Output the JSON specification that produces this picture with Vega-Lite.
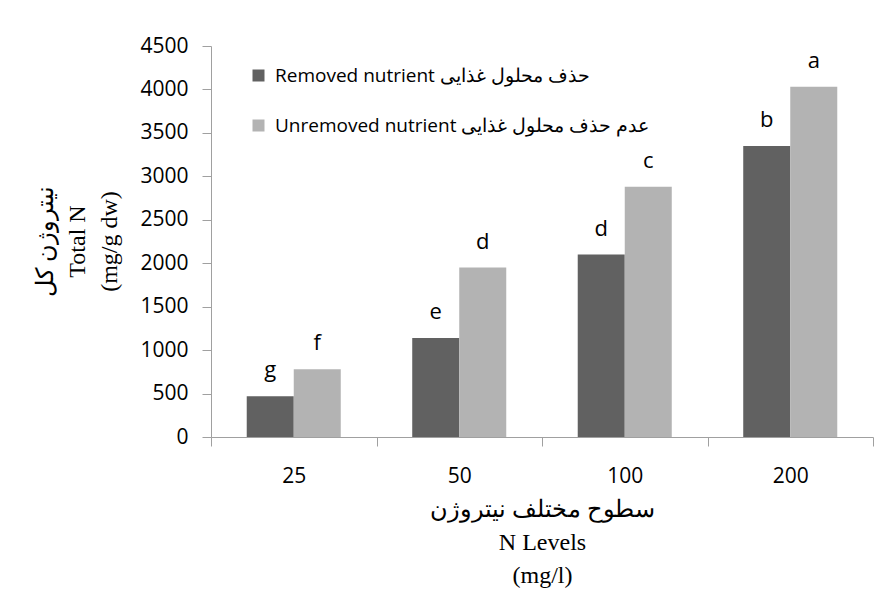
{
  "$schema": "https://vega.github.io/schema/vega-lite/v6.json",
  "width": 662,
  "height": 391,
  "autosize": {"type": "none"},
  "padding": {"left": 211, "top": 46, "right": 4, "bottom": 155},
  "background": "white",
  "data": {
    "values": [
      {"level": "25", "treatment": "Removed nutrient حذف محلول غذایی", "totalN": 470, "letter": "g"},
      {"level": "25", "treatment": "Unremoved nutrient عدم حذف محلول غذایی", "totalN": 780, "letter": "f"},
      {"level": "50", "treatment": "Removed nutrient حذف محلول غذایی", "totalN": 1140, "letter": "e"},
      {"level": "50", "treatment": "Unremoved nutrient عدم حذف محلول غذایی", "totalN": 1950, "letter": "d"},
      {"level": "100", "treatment": "Removed nutrient حذف محلول غذایی", "totalN": 2100, "letter": "d"},
      {"level": "100", "treatment": "Unremoved nutrient عدم حذف محلول غذایی", "totalN": 2880, "letter": "c"},
      {"level": "200", "treatment": "Removed nutrient حذف محلول غذایی", "totalN": 3350, "letter": "b"},
      {"level": "200", "treatment": "Unremoved nutrient عدم حذف محلول غذایی", "totalN": 4030, "letter": "a"}
    ]
  },
  "encoding": {
    "x": {
      "field": "level",
      "type": "nominal",
      "sort": ["25", "50", "100", "200"],
      "scale": {"paddingInner": 0, "paddingOuter": 0},
      "axis": {
        "title": ["سطوح مختلف نیتروژن", "N Levels", "(mg/l)"],
        "titleFont": "Liberation Serif",
        "titleFontSize": 24,
        "titleFontWeight": "normal",
        "titleLineHeight": 33,
        "titleColor": "black",
        "titleBaseline": "top",
        "titleY": 60,
        "labelAngle": 0,
        "labelFont": "Open Sans",
        "labelFontSize": 21,
        "labelColor": "black",
        "labelPadding": 19,
        "tickBand": "extent",
        "tickSize": 9,
        "tickColor": "#a0a0a0",
        "domainColor": "#a0a0a0",
        "grid": false
      }
    },
    "xOffset": {
      "field": "treatment",
      "type": "nominal",
      "sort": ["Removed nutrient حذف محلول غذایی", "Unremoved nutrient عدم حذف محلول غذایی"],
      "scale": {"paddingInner": 0, "paddingOuter": 0.76}
    },
    "y": {
      "field": "totalN",
      "type": "quantitative",
      "scale": {"domain": [0, 4500], "nice": false},
      "axis": {
        "values": [0, 500, 1000, 1500, 2000, 2500, 3000, 3500, 4000, 4500],
        "format": "d",
        "title": ["نیتروژن کل", "Total N", "(mg/g dw)"],
        "titleFont": "Liberation Serif",
        "titleFontSize": 24,
        "titleFontWeight": "normal",
        "titleLineHeight": 32,
        "titleColor": "black",
        "titleAngle": -90,
        "titleBaseline": "top",
        "titleAlign": "center",
        "titleX": -178,
        "titleY": 195,
        "labelFont": "Open Sans",
        "labelFontSize": 21,
        "labelColor": "black",
        "labelPadding": 14,
        "tickSize": 9,
        "tickColor": "#a0a0a0",
        "domainColor": "#a0a0a0",
        "grid": false
      }
    }
  },
  "layer": [
    {
      "mark": {"type": "bar"},
      "encoding": {
        "color": {
          "field": "treatment",
          "type": "nominal",
          "scale": {
            "domain": ["Removed nutrient حذف محلول غذایی", "Unremoved nutrient عدم حذف محلول غذایی"],
            "range": ["#616161", "#b3b3b3"]
          },
          "legend": {
            "title": null,
            "orient": "none",
            "legendX": 38,
            "legendY": 20,
            "padding": 0,
            "symbolType": "square",
            "symbolSize": 144,
            "symbolStrokeWidth": 0,
            "labelFont": "Open Sans",
            "labelFontSize": 19,
            "labelColor": "black",
            "labelOffset": 7,
            "labelLimit": 0,
            "rowPadding": 30
          }
        }
      }
    },
    {
      "mark": {"type": "text", "font": "Open Sans", "fontSize": 22, "baseline": "alphabetic", "dy": -19, "color": "black"},
      "encoding": {
        "text": {"field": "letter"}
      }
    }
  ],
  "config": {
    "view": {"stroke": null}
  }
}
